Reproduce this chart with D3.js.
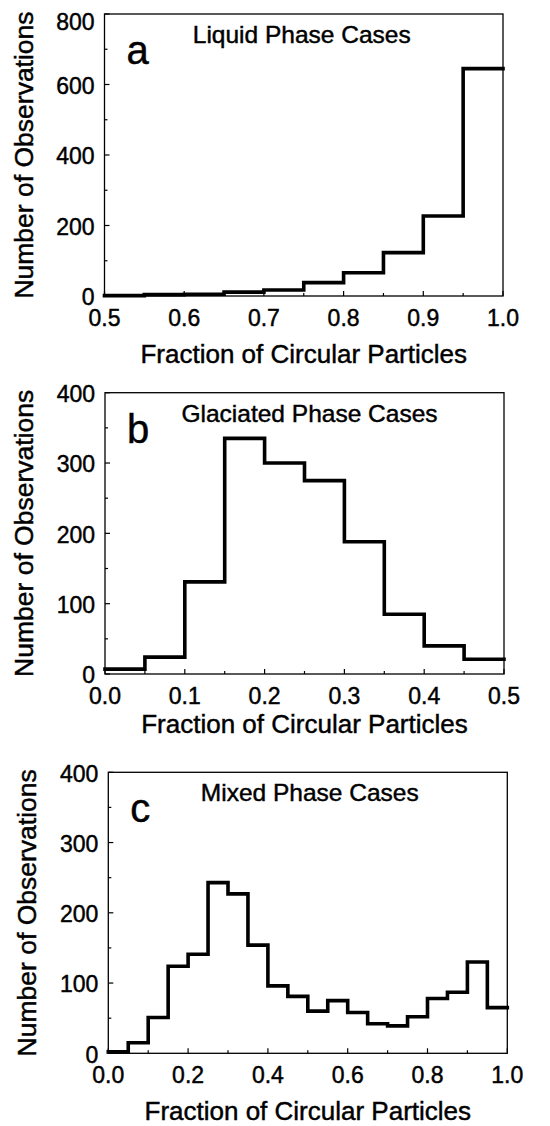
<!DOCTYPE html>
<html>
<head>
<meta charset="utf-8">
<script src="https://cdn.jsdelivr.net/npm/d3@7"></script>
<style>
html,body{margin:0;padding:0;background:#fff;}
svg{display:block;}
text{font-family:"Liberation Sans",Arial,Helvetica,sans-serif;fill:#000;stroke:#000;stroke-width:0.45px;}
</style>
</head>
<body>
<svg id="chart" width="550" height="1126"></svg>
<script>
// ---- data ----
const liquidBinStarts = [0.50,0.55,0.60,0.65,0.70,0.75,0.80,0.85,0.90,0.95];
const liquidCounts    = [1, 4, 5, 11, 17, 38, 66, 123, 227, 645];

const glaciatedBinStarts = [0.00,0.05,0.10,0.15,0.20,0.25,0.30,0.35,0.40,0.45];
const glaciatedCounts    = [7, 24, 131, 335, 300, 275, 188, 85, 40, 21];

const mixedBinStarts = [0.00,0.05,0.10,0.15,0.20,0.25,0.30,0.35,0.40,0.45,
                        0.50,0.55,0.60,0.65,0.70,0.75,0.80,0.85,0.90,0.95];
const mixedCounts    = [2, 15, 51, 124, 141, 243, 227, 154, 96, 81,
                        60, 75, 58, 42, 39, 52, 78, 87, 130, 65];

const binWidth = 0.05;

const xTicksA = [0.5,0.6,0.7,0.8,0.9,1.0];
const xTicksB = [0.0,0.1,0.2,0.3,0.4,0.5];
const xTicksC = [0.0,0.2,0.4,0.6,0.8,1.0];
const yTicksA = [0,200,400,600,800];
const yTicksB = [0,100,200,300,400];
const yTicksC = [0,100,200,300,400];

const panelLetters = ["a","b","c"];
const panelTitles = ["Liquid Phase Cases","Glaciated Phase Cases","Mixed Phase Cases"];
const xAxisTitle = "Fraction of Circular Particles";
const yAxisTitle = "Number of Observations";

// ---- layout ----
const panels = [
  {starts: liquidBinStarts, counts: liquidCounts, xDomain:[0.5,1.0], yDomain:[0,800],
   xTicks: xTicksA, yTicks: yTicksA, xMinorStep:0.05, yMinorStep:100, xFmt: d3.format(".1f"),
   left:104.5, right:503, top:14, bottom:296, xTitleDy:67, titleDx:-2},
  {starts: glaciatedBinStarts, counts: glaciatedCounts, xDomain:[0,0.5], yDomain:[0,400],
   xTicks: xTicksB, yTicks: yTicksB, xMinorStep:0.05, yMinorStep:50, xFmt: d3.format(".1f"),
   left:105, right:504, top:392.7, bottom:674, xTitleDy:59, titleDx:5},
  {starts: mixedBinStarts, counts: mixedCounts, xDomain:[0,1.0], yDomain:[0,400],
   xTicks: xTicksC, yTicks: yTicksC, xMinorStep:0.1, yMinorStep:50, xFmt: d3.format(".1f"),
   left:108.3, right:507.3, top:772.3, bottom:1053.3, xTitleDy:67, titleDx:2}
];

const svg = d3.select("#chart");

panels.forEach((p, i) => {
  const x = d3.scaleLinear().domain(p.xDomain).range([p.left, p.right]);
  const y = d3.scaleLinear().domain(p.yDomain).range([p.bottom, p.top]);
  const g = svg.append("g");

  // frame
  g.append("rect")
    .attr("x", p.left).attr("y", p.top)
    .attr("width", p.right - p.left).attr("height", p.bottom - p.top)
    .attr("fill", "none").attr("stroke", "#000").attr("stroke-width", 1.3);

  // minor ticks (inside)
  const yMinor = d3.range(p.yDomain[0], p.yDomain[1] + 1e-9, p.yMinorStep);
  g.append("g").selectAll("line").data(yMinor).join("line")
    .attr("x1", p.left).attr("x2", d => p.left + (p.yTicks.includes(d) ? 5 : 3))
    .attr("y1", d => y(d)).attr("y2", d => y(d))
    .attr("stroke", "#000").attr("stroke-width", 1.2);
  const xMinor = d3.range(p.xDomain[0], p.xDomain[1] + 1e-9, p.xMinorStep);
  g.append("g").selectAll("line").data(xMinor).join("line")
    .attr("x1", d => x(d)).attr("x2", d => x(d))
    .attr("y1", p.bottom).attr("y2", d => p.bottom - (p.xTicks.some(t => Math.abs(t-d)<1e-9) ? 5 : 3))
    .attr("stroke", "#000").attr("stroke-width", 1.2);

  // y tick labels
  g.append("g").selectAll("text").data(p.yTicks).join("text")
    .attr("x", p.left - 10)
    .attr("y", d => Math.max(y(d) + 1, 22))
    .attr("dy", "0.36em")
    .attr("text-anchor", "end")
    .attr("font-size", 23)
    .text(d => d);

  // x tick labels
  g.append("g").selectAll("text").data(p.xTicks).join("text")
    .attr("x", d => x(d))
    .attr("y", p.bottom + 30)
    .attr("text-anchor", "middle")
    .attr("font-size", 23)
    .text(d => p.xFmt(d));

  // axis titles
  g.append("text")
    .attr("x", (p.left + p.right) / 2)
    .attr("y", p.bottom + p.xTitleDy)
    .attr("text-anchor", "middle")
    .attr("font-size", 26)
    .text(xAxisTitle);
  g.append("text")
    .attr("transform", `translate(${p.left - 72},${(p.top + p.bottom) / 2}) rotate(-90)`)
    .attr("text-anchor", "middle")
    .attr("font-size", 26.5)
    .text(yAxisTitle);

  // panel letter & title
  g.append("text")
    .attr("x", p.left + 22).attr("y", p.top + 50)
    .attr("font-size", 40)
    .text(panelLetters[i]);
  g.append("text")
    .attr("x", (p.left + p.right) / 2 + p.titleDx).attr("y", p.top + 29)
    .attr("text-anchor", "middle")
    .attr("font-size", 24.5)
    .text(panelTitles[i]);

  // histogram step line
  const pts = p.starts.map((s, k) => [s, p.counts[k]]);
  pts.push([p.starts[p.starts.length - 1] + binWidth, p.counts[p.counts.length - 1]]);
  const line = d3.line().x(d => x(d[0])).y(d => y(d[1])).curve(d3.curveStepAfter);
  g.append("path")
    .attr("d", line(pts))
    .attr("fill", "none").attr("stroke", "#000")
    .attr("stroke-width", 3.6).attr("stroke-linejoin", "miter").attr("stroke-linecap", "square");
});
</script>
</body>
</html>
